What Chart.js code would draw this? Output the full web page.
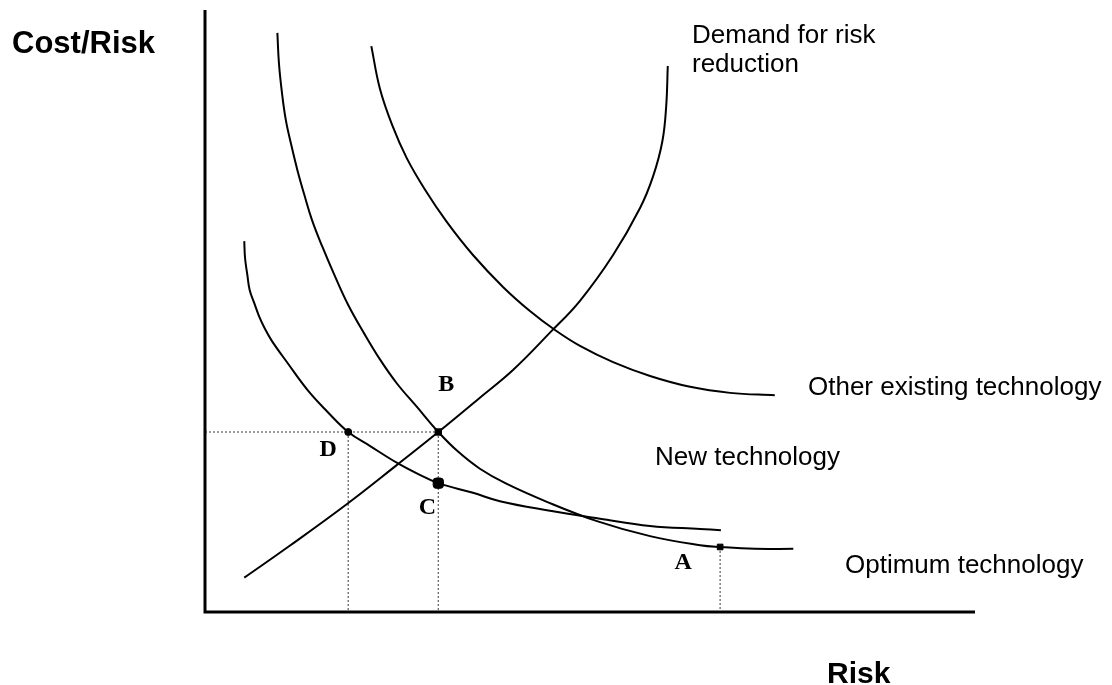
<!DOCTYPE html>
<html>
<head>
<meta charset="utf-8">
<title>Cost/Risk</title>
<script src="https://cdn.jsdelivr.net/npm/chart.js@4.4.1/dist/chart.umd.min.js"></script>
<style>
    body { margin: 0; background: #fff; }
    #wrap { width: 1112px; height: 685px; position: relative; }
</style>
</head>
<body>
<div id="wrap"><canvas id="riskChart"></canvas></div>
<script>
// curve values (risk on x, cost/risk on y, 0-10 units)
const otherTechX = [2.16, 2.27, 2.43, 2.62, 2.86, 3.14, 3.48, 3.87, 4.22, 4.55, 4.87, 5.30, 5.78, 6.30, 6.82, 7.40];
const otherTechY = [9.40, 8.70, 8.09, 7.54, 7.01, 6.48, 5.93, 5.40, 5.00, 4.68, 4.42, 4.15, 3.92, 3.74, 3.64, 3.60];

const midCurveX = [0.94, 0.96, 1.00, 1.05, 1.12, 1.20, 1.29, 1.39, 1.52, 1.68, 1.86, 2.07, 2.27, 2.49, 2.75, 3.03, 3.29, 3.57, 3.90, 4.44, 5.09, 5.78, 6.43, 6.69, 7.14, 7.64];
const midCurveY = [9.62, 9.12, 8.62, 8.17, 7.76, 7.34, 6.93, 6.51, 6.08, 5.60, 5.10, 4.62, 4.20, 3.80, 3.41, 2.99, 2.66, 2.38, 2.14, 1.83, 1.51, 1.26, 1.11, 1.08, 1.05, 1.05];

const lowCurveX = [0.51, 0.52, 0.55, 0.58, 0.64, 0.70, 0.78, 0.87, 1.07, 1.33, 1.58, 1.86, 2.14, 2.49, 2.77, 3.03, 3.48, 3.83, 4.44, 5.13, 5.78, 6.43, 6.70];
const lowCurveY = [6.16, 5.88, 5.60, 5.35, 5.13, 4.92, 4.70, 4.50, 4.14, 3.69, 3.34, 2.99, 2.76, 2.48, 2.29, 2.14, 1.98, 1.84, 1.69, 1.55, 1.43, 1.38, 1.36];

const demandX = [0.51, 1.10, 1.84, 2.49, 3.03, 3.57, 4.00, 4.48, 4.87, 5.30, 5.65, 5.82, 5.94, 5.99, 6.01];
const demandY = [0.57, 1.10, 1.79, 2.44, 2.99, 3.56, 4.02, 4.64, 5.17, 5.93, 6.71, 7.24, 7.82, 8.41, 9.07];

// marked points
const pointNames = ["D", "B", "C", "A"];
const pointX = [1.86, 3.03, 3.03, 6.69];
const pointY = [2.99, 2.99, 2.14, 1.08];

function toXY(xs, ys) {
    return xs.map((x, i) => ({ x: x, y: ys[i] }));
}

function curve(xs, ys) {
    return {
        data: toXY(xs, ys),
        showLine: true,
        borderColor: "#000",
        borderWidth: 2,
        pointRadius: 0,
        tension: 0.4,
        clip: false,
    };
}

function guide(x1, y1, x2, y2) {
    return {
        data: [{ x: x1, y: y1 }, { x: x2, y: y2 }],
        showLine: true,
        borderColor: "#666",
        borderWidth: 1.3,
        borderDash: [2, 2],
        pointRadius: 0,
        tension: 0,
        clip: false,
    };
}

// axes, axis titles, curve names and point letters
const annotations = {
    id: "annotations",
    afterDatasetsDraw(chart) {
        const ctx = chart.ctx;
        const a = chart.chartArea;
        const sx = chart.scales.x, sy = chart.scales.y;
        ctx.save();
        ctx.strokeStyle = "#000";
        ctx.lineWidth = 3;
        ctx.beginPath();
        ctx.moveTo(a.left, a.top);
        ctx.lineTo(a.left, a.bottom);
        ctx.lineTo(a.right, a.bottom);
        ctx.stroke();

        ctx.fillStyle = "#000";
        ctx.textAlign = "left";
        ctx.textBaseline = "alphabetic";
        ctx.font = 'bold 31px "Liberation Sans", Arial, sans-serif';
        ctx.fillText("Cost/Risk", 12, 53);
        ctx.font = 'bold 30px "Liberation Sans", Arial, sans-serif';
        ctx.fillText("Risk", 827, 683);

        ctx.font = '26px "Liberation Sans", Arial, sans-serif';
        ctx.fillText("Demand for risk", 692, 43);
        ctx.fillText("reduction", 692, 72);
        ctx.fillText("Other existing technology", 808, 395);
        ctx.fillText("New technology", 655, 465);
        ctx.fillText("Optimum technology", 845, 573);

        const offsets = [[-20, 18], [8, -47], [-11, 25], [-37, 16]];
        ctx.font = 'bold 24px "Liberation Serif", "DejaVu Serif", serif';
        ctx.textAlign = "center";
        ctx.textBaseline = "middle";
        pointNames.forEach((name, i) => {
            const px = sx.getPixelForValue(pointX[i]);
            const py = sy.getPixelForValue(pointY[i]);
            ctx.fillText(name, px + offsets[i][0], py + offsets[i][1]);
        });
        ctx.restore();
    },
};

const ctx = document.getElementById("riskChart").getContext("2d");
new Chart(ctx, {
    type: "scatter",
    data: {
        datasets: [
            {
                data: toXY(pointX, pointY),
                showLine: false,
                backgroundColor: "#000",
                borderColor: "#000",
                borderWidth: 1,
                pointStyle: ["circle", "rect", "rectRounded", "rect"],
                pointRadius: [3.5, 4.5, 6, 4],
                clip: false,
            },
            curve(otherTechX, otherTechY),
            curve(midCurveX, midCurveY),
            curve(lowCurveX, lowCurveY),
            curve(demandX, demandY),
            guide(0, pointY[1], pointX[1], pointY[1]),
            guide(pointX[0], pointY[0], pointX[0], 0),
            guide(pointX[1], pointY[1], pointX[1], 0),
            guide(pointX[3], pointY[3], pointX[3], 0),
        ],
    },
    options: {
        responsive: true,
        maintainAspectRatio: false,
        animation: false,
        layout: { padding: { left: 205, right: 137, top: 10, bottom: 73 } },
        plugins: {
            legend: { display: false },
            tooltip: { enabled: false },
        },
        scales: {
            x: { type: "linear", min: 0, max: 10, display: false },
            y: { type: "linear", min: 0, max: 10, display: false },
        },
    },
    plugins: [annotations],
});
</script>
</body>
</html>
